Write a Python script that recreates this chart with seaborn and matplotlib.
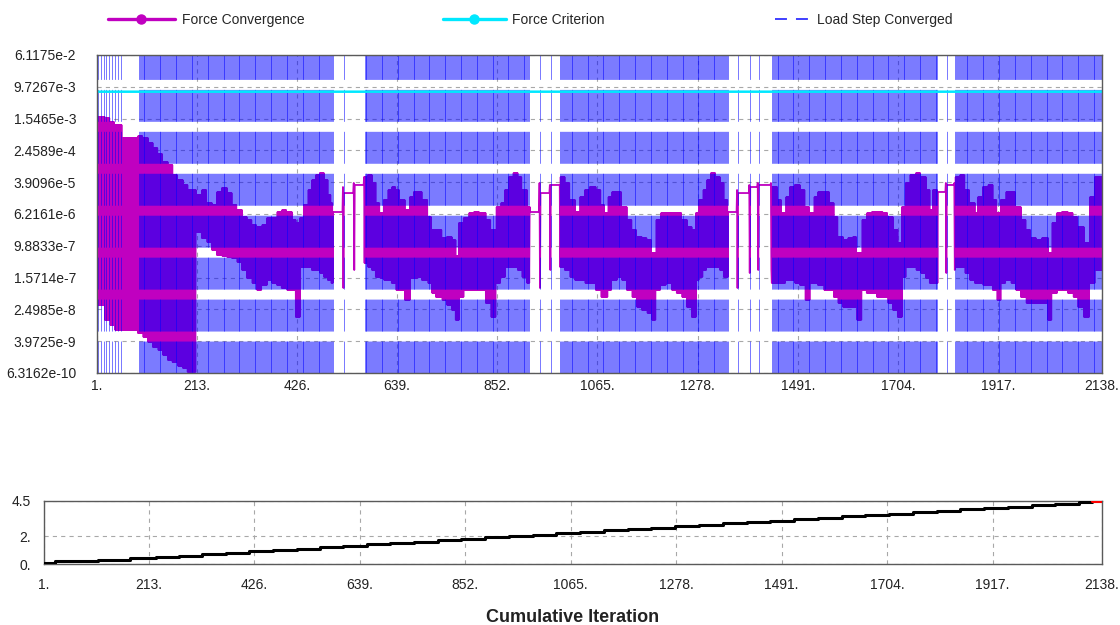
import numpy as np
import pandas as pd
import matplotlib
matplotlib.use("Agg")
import matplotlib.pyplot as plt
import seaborn as sns
from matplotlib.lines import Line2D

# ---------------------------------------------------------------------------
# Force convergence history.  Each knot opens a run of iterations in which the
# residual swings between a peak value (odd iterations) and a trough value
# (even iterations); runs with peak == trough are flat bisection plateaus.
# ---------------------------------------------------------------------------
knot_iter = [
    1, 2, 3, 18, 29, 39, 54, 88, 99, 110, 120, 131, 141, 152, 162, 173, 184, 194,
    212, 224, 235, 246, 256, 267, 278, 288, 299, 310, 320, 331, 341, 352, 363, 373,
    384, 394, 405, 416, 424, 433, 441, 450, 458, 467, 475, 484, 492, 499,
    503, 524, 525, 526, 547, 548, 549,
    569, 577, 586, 594, 603, 611, 620, 628, 637, 645, 656, 667, 675, 684, 692, 705,
    713, 722, 735, 745, 756, 764, 771, 781, 792, 803, 815, 828, 839, 850, 860, 869,
    877, 886, 896, 905, 916,
    922, 942, 943, 944, 964, 965, 966,
    986, 996, 1007, 1018, 1028, 1039, 1049, 1062, 1073, 1081, 1088, 1096, 1107,
    1117, 1128, 1139, 1149, 1160, 1171, 1181, 1190, 1200, 1211, 1224, 1234, 1245,
    1256, 1266, 1275, 1281, 1290, 1298, 1307, 1317, 1326, 1334,
    1343, 1362, 1363, 1364, 1388, 1389, 1390, 1406, 1407, 1408, 1434, 1435,
    1436, 1449, 1457, 1466, 1475, 1485, 1496, 1507, 1517, 1526, 1534, 1547, 1558,
    1568, 1577, 1588, 1598, 1609, 1617, 1628, 1638, 1649, 1660, 1672, 1683, 1694,
    1704, 1713, 1721, 1730, 1743, 1753, 1764, 1772, 1779,
    1789, 1806, 1807, 1808, 1824, 1825,
    1826, 1836, 1847, 1857, 1868, 1874, 1885, 1896, 1906, 1915, 1923, 1934, 1945,
    1955, 1966, 1977, 1987, 1998, 2011, 2024, 2032, 2043, 2053, 2066, 2077, 2087,
    2100, 2112, 2123,
]
knot_peak = [
    6.12e-2, 1.0e-7, 1.70e-3, 1.60e-3, 1.27e-3, 1.07e-3, 5.04e-4, 5.66e-4, 5.04e-4,
    3.77e-4, 2.83e-4, 2.00e-4, 1.26e-4, 1.06e-4, 5.93e-5, 4.44e-5, 3.33e-5, 2.49e-5,
    1.87e-5, 2.49e-5, 1.17e-5, 1.05e-5, 2.22e-5, 2.80e-5, 2.09e-5, 1.05e-5, 7.84e-6,
    5.23e-6, 4.40e-6, 3.30e-6, 2.93e-6, 3.30e-6, 4.93e-6, 4.93e-6,
    6.98e-6, 7.84e-6, 6.98e-6, 4.40e-6, 3.70e-6, 4.93e-6, 1.05e-5, 2.49e-5, 4.44e-5,
    5.93e-5, 6.66e-5, 4.44e-5, 1.87e-5, 1.17e-5,
    6.98e-6, 2.96e-5, 8.61e-8, 2.09e-5, 3.74e-5, 2.44e-7, 3.33e-5,
    5.28e-5, 5.93e-5, 3.74e-5, 1.17e-5, 6.59e-6, 1.40e-5, 2.49e-5, 2.96e-5, 2.49e-5,
    1.40e-5, 7.84e-6, 1.66e-5, 2.22e-5, 2.22e-5, 1.40e-5, 5.23e-6,
    2.47e-6, 2.47e-6, 1.55e-6, 1.64e-6, 1.38e-6, 5.48e-7, 3.70e-6, 4.93e-6, 6.59e-6,
    6.98e-6, 6.59e-6, 4.40e-6, 2.47e-6, 9.33e-6, 1.17e-5, 2.49e-5,
    5.28e-5, 6.66e-5, 5.28e-5, 2.49e-5, 9.33e-6,
    6.98e-6, 3.74e-5, 8.61e-8, 2.09e-5, 3.33e-5, 2.44e-7, 3.33e-5,
    5.28e-5, 3.74e-5, 1.40e-5, 6.98e-6, 1.66e-5, 2.49e-5, 2.96e-5, 2.49e-5, 1.05e-5,
    6.59e-6, 1.66e-5, 2.22e-5, 2.22e-5,
    9.33e-6, 4.40e-6, 2.47e-6, 1.64e-6, 1.55e-6, 1.38e-6, 6.53e-7, 4.40e-6, 6.59e-6,
    6.59e-6, 6.59e-6, 6.59e-6, 4.40e-6,
    2.93e-6, 2.47e-6, 6.59e-6, 1.40e-5, 2.49e-5, 4.44e-5, 6.66e-5, 5.28e-5, 3.74e-5,
    1.40e-5,
    6.98e-6, 2.49e-5, 8.61e-8, 2.09e-5, 3.33e-5, 2.05e-7, 2.96e-5, 3.74e-5, 2.44e-7,
    3.33e-5, 3.74e-5, 2.44e-7,
    2.96e-5, 1.40e-5, 6.59e-6, 1.66e-5, 2.96e-5, 3.33e-5, 2.49e-5, 9.33e-6, 6.59e-6,
    1.66e-5, 2.22e-5, 2.22e-5, 1.17e-5,
    5.23e-6, 1.64e-6, 1.38e-6, 1.55e-6, 1.64e-6, 6.53e-7, 4.40e-6, 6.59e-6, 6.98e-6,
    6.98e-6, 6.59e-6, 5.23e-6, 2.47e-6,
    1.16e-6, 9.33e-6, 3.74e-5, 5.93e-5, 6.66e-5, 5.28e-5, 2.49e-5, 7.84e-6, 2.49e-5,
    2.22e-5, 3.74e-5, 2.05e-7, 3.33e-5, 3.74e-5, 2.44e-7,
    5.28e-5, 5.93e-5, 2.49e-5, 1.17e-5, 6.59e-6, 1.66e-5, 2.96e-5, 3.33e-5, 1.40e-5,
    6.59e-6, 1.40e-5, 2.22e-5, 2.22e-5,
    9.33e-6, 4.40e-6, 2.47e-6, 1.55e-6, 1.38e-6, 1.55e-6, 6.53e-7, 3.70e-6, 6.59e-6,
    6.98e-6, 6.59e-6, 5.23e-6, 2.93e-6,
    1.16e-6, 1.66e-5, 5.28e-5,
]
knot_trough = [
    6.12e-2, 1.0e-7, 3.23e-8, 1.36e-8, 1.01e-8, 7.60e-9, 7.60e-9, 6.39e-9, 5.07e-9,
    3.80e-9, 2.84e-9, 2.39e-9, 1.79e-9, 1.34e-9, 1.19e-9, 9.47e-10, 8.44e-10, 6.70e-10,
    2.20e-6, 1.55e-6, 1.23e-6, 7.76e-7, 5.81e-7, 5.48e-7, 5.18e-7, 4.89e-7, 3.88e-7,
    2.44e-7, 1.54e-7, 1.15e-7, 7.67e-8, 1.03e-7, 1.37e-7, 1.15e-7,
    1.03e-7, 8.61e-8, 7.67e-8, 7.67e-8, 1.61e-8, 2.90e-7, 2.90e-7, 2.90e-7, 2.44e-7,
    2.44e-7, 2.05e-7, 1.63e-7, 1.37e-7, 1.15e-7,
    6.98e-6, 2.96e-5, 8.61e-8, 2.09e-5, 3.74e-5, 2.44e-7, 3.33e-5,
    3.66e-7, 2.90e-7, 2.44e-7, 1.63e-7, 1.54e-7, 1.37e-7, 1.37e-7, 1.15e-7, 7.67e-8,
    7.67e-8, 4.31e-8, 1.54e-7, 1.54e-7, 1.63e-7, 1.37e-7, 1.15e-7,
    6.45e-8, 5.12e-8, 4.31e-8, 3.23e-8, 2.42e-8, 1.36e-8, 5.12e-8, 7.67e-8, 7.67e-8,
    7.67e-8, 7.67e-8, 3.62e-8, 1.61e-8, 1.15e-7, 1.63e-7, 2.90e-7,
    2.90e-7, 2.90e-7, 2.44e-7, 1.63e-7, 1.15e-7,
    6.98e-6, 3.74e-5, 8.61e-8, 2.09e-5, 3.33e-5, 2.44e-7, 3.33e-5,
    2.90e-7, 2.44e-7, 1.63e-7, 1.37e-7, 1.37e-7, 1.15e-7, 1.15e-7, 7.67e-8, 5.12e-8,
    5.12e-8, 7.67e-8, 1.37e-7, 1.63e-7,
    1.37e-7, 7.67e-8, 5.12e-8, 2.87e-8, 2.42e-8, 2.03e-8, 1.36e-8, 7.67e-8, 1.03e-7,
    1.15e-7, 7.67e-8, 6.45e-8, 5.12e-8,
    2.87e-8, 1.61e-8, 1.37e-7, 1.63e-7, 2.44e-7, 2.90e-7, 2.90e-7, 2.90e-7, 2.44e-7,
    1.63e-7,
    6.98e-6, 2.49e-5, 8.61e-8, 2.09e-5, 3.33e-5, 2.05e-7, 2.96e-5, 3.74e-5, 2.44e-7,
    3.33e-5, 3.74e-5, 2.44e-7,
    1.15e-7, 1.15e-7, 1.15e-7, 1.37e-7, 1.37e-7, 1.15e-7, 1.03e-7, 4.31e-8, 1.15e-7,
    1.15e-7, 1.03e-7, 7.67e-8, 7.67e-8,
    5.12e-8, 3.62e-8, 2.87e-8, 2.87e-8, 2.87e-8, 1.36e-8, 7.67e-8, 6.45e-8, 6.45e-8,
    5.12e-8, 5.12e-8, 3.62e-8, 2.42e-8,
    1.61e-8, 1.63e-7, 2.90e-7, 2.90e-7, 2.44e-7, 2.05e-7, 1.54e-7, 1.15e-7, 1.15e-7,
    2.22e-5, 3.74e-5, 2.05e-7, 3.33e-5, 3.74e-5, 2.44e-7,
    2.90e-7, 2.90e-7, 2.05e-7, 1.37e-7, 1.15e-7, 1.15e-7, 1.03e-7, 1.03e-7, 7.67e-8,
    4.31e-8, 1.15e-7, 1.37e-7, 1.15e-7,
    7.67e-8, 5.12e-8, 3.62e-8, 3.62e-8, 3.62e-8, 3.62e-8, 1.36e-8, 6.45e-8, 7.67e-8,
    7.67e-8, 6.45e-8, 5.12e-8, 2.87e-8,
    1.61e-8, 1.15e-7, 2.44e-7,
]

force_criterion = 7.33e-3
last_iteration = 2138

# Converged load steps: first iteration, last iteration, spacing of each run
conv_first = [3, 90, 526, 570, 944, 966, 986, 1364, 1390, 1408, 1436, 1808, 1826]
conv_last = [53, 502, 526, 920, 944, 966, 1342, 1364, 1390, 1408, 1788, 1808, 2138]
conv_every = [6, 2, 1, 2, 1, 1, 2, 1, 1, 1, 2, 1, 2]

# Load time versus cumulative iteration (staircase)
time_iter = [
    1, 23, 110, 174, 228, 274, 321, 369, 416, 463, 512, 558, 605, 653, 700, 748,
    796, 844, 892, 940, 988, 1036, 1084, 1132, 1180, 1228, 1276, 1324, 1372, 1420,
    1468, 1516, 1564, 1612, 1660, 1708, 1756, 1804, 1852, 1900, 1948, 1996, 2044,
    2092, 2118,
]
time_value = [
    0.1, 0.2, 0.3, 0.4, 0.5, 0.6, 0.7, 0.8, 0.9, 1.0, 1.1, 1.2, 1.3, 1.4, 1.5, 1.6,
    1.7, 1.8, 1.9, 2.0, 2.1, 2.2, 2.3, 2.4, 2.5, 2.6, 2.7, 2.8, 2.9, 3.0,
    3.1, 3.2, 3.3, 3.4, 3.5, 3.6, 3.7, 3.8, 3.9, 4.0, 4.1, 4.2, 4.3,
    4.4, 4.5,
]
current_step_iter = [2118, 2138]
current_step_time = [4.5, 4.5]

y_ticks = [6.3162e-10, 3.9725e-9, 2.4985e-8, 1.5714e-7, 9.8833e-7, 6.2161e-6,
           3.9096e-5, 2.4589e-4, 1.5465e-3, 9.7267e-3, 6.1175e-2]
y_labels = ["6.3162e-10", "3.9725e-9", "2.4985e-8", "1.5714e-7", "9.8833e-7",
            "6.2161e-6", "3.9096e-5", "2.4589e-4", "1.5465e-3", "9.7267e-3", "6.1175e-2"]
x_ticks = [1, 213, 426, 639, 852, 1065, 1278, 1491, 1704, 1917, 2138]
x_labels = ["1.", "213.", "426.", "639.", "852.", "1065.", "1278.", "1491.",
            "1704.", "1917.", "2138."]
time_ticks = [0, 2, 4.5]
time_labels = ["0.", "2.", "4.5"]

# ---------------------------------------------------------------------------
sns.set_style("white")
plt.rcParams["font.family"] = ["Liberation Sans", "DejaVu Sans"]
plt.rcParams["lines.scale_dashes"] = False

MAGENTA = "#c000c0"
CYAN = "#00e8ff"
BLUE = "#0000ff"
GRID = "#a8a8a8"
SPINE = "#5a5a5a"

W, H = 1120, 625
fig = plt.figure(figsize=(W / 100, H / 100), dpi=100)

iters = np.arange(1, last_iteration + 1)
seg = np.searchsorted(knot_iter, iters, side="right") - 1
peak = np.asarray(knot_peak)[seg]
trough = np.asarray(knot_trough)[seg]
force = np.where(iters % 2 == 1, peak, trough)
force_df = pd.DataFrame({"Cumulative Iteration": iters, "Force": force})

converged = np.concatenate([np.arange(a, b + 1, s)
                            for a, b, s in zip(conv_first, conv_last, conv_every)])

y_lo, y_hi = y_ticks[0], y_ticks[-1]

# ---- convergence panel ----
ax = fig.add_axes([97 / W, 1 - 373 / H, 1005 / W, 318 / H])
ax.set_yscale("log")
ax.set_xlim(1, last_iteration)
ax.set_ylim(y_lo, y_hi)
ax.set_axisbelow(True)
ax.grid(True, which="major", color=GRID, linestyle=(0, (3.0, 3.0)), linewidth=0.8)
ax.minorticks_off()

sns.lineplot(data=force_df, x="Cumulative Iteration", y="Force", ax=ax,
             color=MAGENTA, linewidth=1.3, estimator=None, sort=False, zorder=2)
ax.vlines(converged, y_lo, y_hi, colors=BLUE, linewidth=0.37,
          linestyles=[(0, (23.0, 7.2))], zorder=3)
sns.lineplot(x=iters, y=np.full(iters.shape, force_criterion), ax=ax,
             color=CYAN, linewidth=1.8, estimator=None, zorder=4)

ax.set_yticks(y_ticks)
ax.set_yticklabels(y_labels)
ax.set_xticks(x_ticks)
ax.set_xticklabels(x_labels)
ax.set_xlabel("")
ax.set_ylabel("")
ax.tick_params(axis="y", direction="out", length=7, width=0.8, color=GRID,
               pad=8, labelsize=10, labelcolor="#222222")
ax.tick_params(axis="x", direction="out", length=3, width=0.8, color=GRID,
               pad=1, labelsize=10, labelcolor="#222222")
for s in ax.spines.values():
    s.set_color(SPINE)
    s.set_linewidth(1.0)
    s.set_zorder(5)

# ---- legend row ----
leg_font = {"family": "Liberation Sans", "size": 10}
legend_items = [
    (Line2D([], [], color=MAGENTA, lw=2.4, marker="o", ms=6.5), "Force Convergence",
     108, 4.8, 0.5),
    (Line2D([], [], color=CYAN, lw=2.4, marker="o", ms=6.5), "Force Criterion",
     443, 4.5, 0.5),
    (Line2D([], [], color="#3030ff", lw=1.3, linestyle=(0, (8.6, 6.5))),
     "Load Step Converged", 775, 2.4, 0.65),
]
for handle, label, x0, hlen, tpad in legend_items:
    fig.legend(handles=[handle], labels=[label], loc="center left",
               bbox_to_anchor=(x0 / W, 1 - 20 / H), frameon=False,
               handlelength=hlen, handletextpad=tpad, borderpad=0,
               borderaxespad=0, prop=leg_font)

# ---- time panel ----
ax2 = fig.add_axes([44 / W, 1 - 564 / H, 1058 / W, 63 / H])
ax2.set_xlim(1, last_iteration)
ax2.set_ylim(0, 4.5)
ax2.set_axisbelow(True)
ax2.grid(True, color=GRID, linestyle=(0, (3.0, 3.0)), linewidth=0.8)

stair_x = time_iter + [last_iteration]
stair_y = time_value + [time_value[-1]]
sns.lineplot(x=stair_x, y=stair_y, ax=ax2, color="black", linewidth=2.2,
             drawstyle="steps-post", estimator=None, zorder=3)
sns.lineplot(x=current_step_iter, y=current_step_time, ax=ax2, color="#ff0000",
             linewidth=2.2, estimator=None, zorder=4)

ax2.set_yticks(time_ticks)
ax2.set_yticklabels(time_labels)
ax2.set_xticks(x_ticks)
ax2.set_xticklabels(x_labels)
ax2.tick_params(axis="y", direction="out", length=8, width=0.8, color=GRID,
                pad=1.5, labelsize=10, labelcolor="#222222")
ax2.tick_params(axis="x", direction="out", length=6, width=0.8, color=GRID,
                pad=4, labelsize=10, labelcolor="#222222")
ax2.set_ylabel("")
ax2.set_xlabel("Cumulative Iteration", fontsize=13, fontweight="bold",
               labelpad=12, color="#222222")
for s in ax2.spines.values():
    s.set_color(SPINE)
    s.set_linewidth(1.0)

fig.savefig("out.png", dpi=100, facecolor="white")
